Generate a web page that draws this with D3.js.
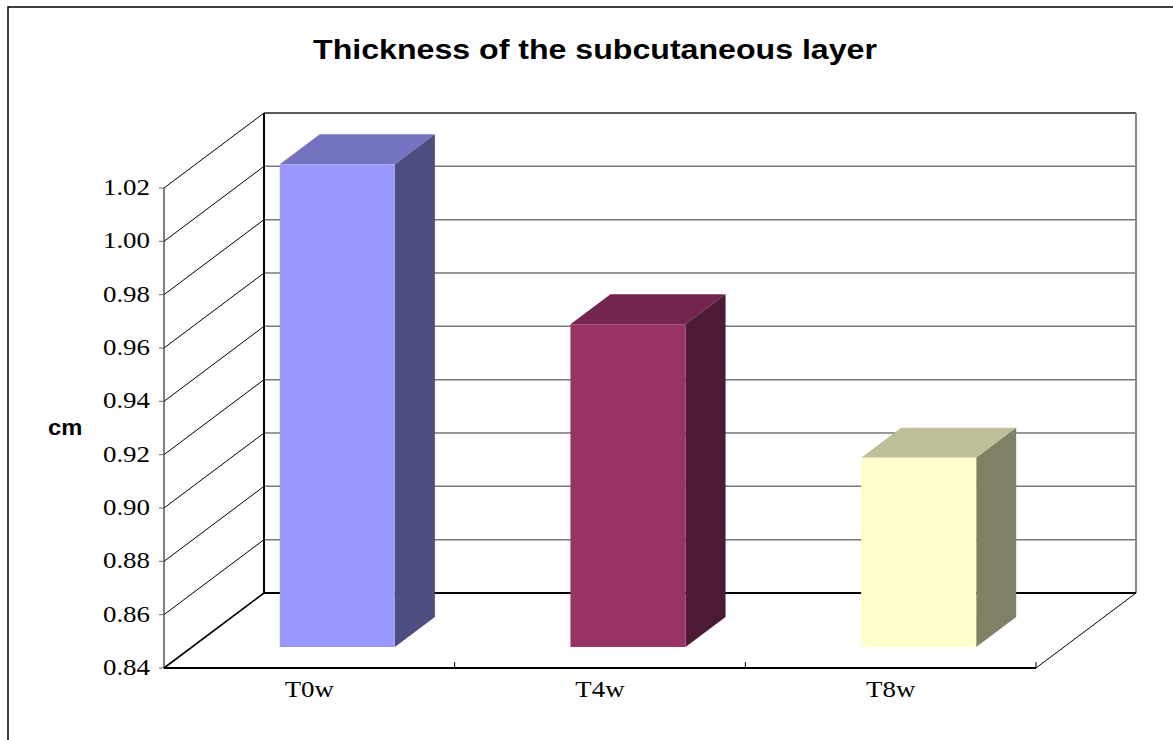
<!DOCTYPE html>
<html>
<head>
<meta charset="utf-8">
<script src="https://cdn.jsdelivr.net/npm/d3@7"></script>
<style>
  body { margin: 0; background: #fff; }
  svg { display: block; }
</style>
</head>
<body>
<div class="report"></div>
<script>
// chart data
var categories = ["T0w", "T4w", "T8w"];
var values = [1.021, 0.961, 0.911];
var yTicks = [0.84, 0.86, 0.88, 0.90, 0.92, 0.94, 0.96, 0.98, 1.00, 1.02];
var frontColors = ["#9999FF", "#993366", "#FFFFCC"];

var width = 1173, height = 740;
var svg = d3.select(".report").append("svg").attr("width", width).attr("height", height);

// 3d frame: front plane + depth offset
var plotLeft = 164, plotRight = 1036, plotTop = 188, plotBottom = 668;
var depthX = 100, depthY = -75;
var barFront = 0.28, barBack = 0.68;   // depth fractions of the bars

var x = d3.scaleBand().domain(categories).range([plotLeft, plotRight]).paddingInner(0.604).paddingOuter(0.302);
var xCat = d3.scaleBand().domain(categories).range([plotLeft, plotRight]);
var y = d3.scaleLinear().domain([0.84, 1.02]).range([plotBottom, plotTop]);

function proj(px, py, f) { return [px + depthX * f, py + depthY * f]; }
function poly(pts) { return "M" + pts.map(function (p) { return p.join(","); }).join("L") + "Z"; }

// text stretched horizontally like the original picture
function label(parent, tx, ty, sx, txt, anchor, family, size, weight) {
    return parent.append("text")
        .attr("transform", "translate(" + tx + "," + ty + ") scale(" + sx + ",1)")
        .attr("text-anchor", anchor)
        .attr("font-family", family)
        .attr("font-size", size)
        .attr("font-weight", weight || "normal")
        .text(txt);
}
var serif = "'Liberation Serif', 'Times New Roman', serif";
var sans = "'Liberation Sans', Arial, sans-serif";

// outer chart border
svg.append("rect").attr("x", 8).attr("y", 7).attr("width", 1300).attr("height", 900)
    .attr("fill", "none").attr("stroke", "#000").attr("stroke-width", 1.5);

var g = svg.append("g");

// back wall gridlines
yTicks.forEach(function (v, i) {
    var a = proj(plotLeft, y(v), 1), b = proj(plotRight, y(v), 1);
    g.append("line").attr("x1", a[0]).attr("y1", a[1]).attr("x2", b[0]).attr("y2", b[1])
        .attr("stroke", i === yTicks.length - 1 ? "#222" : "#777").attr("stroke-width", 1.5);
});

// side wall diagonals
yTicks.forEach(function (v, i) {
    var a = proj(plotLeft, y(v), 0), b = proj(plotLeft, y(v), 1);
    g.append("line").attr("x1", a[0]).attr("y1", a[1]).attr("x2", b[0]).attr("y2", b[1])
        .attr("stroke", "#000").attr("stroke-width", i === 0 ? 1.6 : 1);
});

// back wall edges
var bl = proj(plotLeft, y(0.84), 1), tl = proj(plotLeft, y(1.02), 1);
var br = proj(plotRight, y(0.84), 1), tr = proj(plotRight, y(1.02), 1);
g.append("line").attr("x1", tl[0]).attr("y1", tl[1]).attr("x2", bl[0]).attr("y2", bl[1])
    .attr("stroke", "#000").attr("stroke-width", 2);
g.append("line").attr("x1", tr[0]).attr("y1", tr[1]).attr("x2", br[0]).attr("y2", br[1])
    .attr("stroke", "#888").attr("stroke-width", 2);
g.append("line").attr("x1", bl[0]).attr("y1", bl[1]).attr("x2", br[0]).attr("y2", br[1])
    .attr("stroke", "#000").attr("stroke-width", 2);

// floor right edge and front edge
g.append("line").attr("x1", plotRight).attr("y1", plotBottom).attr("x2", br[0]).attr("y2", br[1])
    .attr("stroke", "#000").attr("stroke-width", 1);
g.append("line").attr("x1", plotLeft).attr("y1", plotBottom).attr("x2", plotRight).attr("y2", plotBottom)
    .attr("stroke", "#000").attr("stroke-width", 2);

// front y axis
g.append("line").attr("x1", plotLeft).attr("y1", y(1.02)).attr("x2", plotLeft).attr("y2", plotBottom)
    .attr("stroke", "#000").attr("stroke-width", 1);
yTicks.forEach(function (v) {
    g.append("line").attr("x1", plotLeft - 5).attr("y1", y(v)).attr("x2", plotLeft).attr("y2", y(v))
        .attr("stroke", "#666").attr("stroke-width", 1);
    label(g, 150, y(v) + 7, 1.17, d3.format(".2f")(v), "end", serif, 23);
});

// category ticks and labels
categories.forEach(function (c) {
    var tx = xCat(c) + xCat.bandwidth();
    g.append("line").attr("x1", tx).attr("y1", plotBottom - 6).attr("x2", tx).attr("y2", plotBottom)
        .attr("stroke", "#000").attr("stroke-width", 1);
    label(g, xCat(c) + xCat.bandwidth() / 2, 697, 1.12, c, "middle", serif, 24);
});

// 3d bars
categories.forEach(function (c, i) {
    var x0 = x(c), x1 = x(c) + x.bandwidth();
    var y0 = y(0.84), y1 = y(values[i]);
    var base = d3.rgb(frontColors[i]);
    var topCol = d3.rgb(base.r * 0.75, base.g * 0.75, base.b * 0.75);
    var sideCol = d3.rgb(base.r * 0.5, base.g * 0.5, base.b * 0.5);
    var bar = g.append("g").attr("class", "bar");
    bar.append("path")
        .attr("d", poly([proj(x0, y1, barFront), proj(x1, y1, barFront), proj(x1, y1, barBack), proj(x0, y1, barBack)]))
        .attr("fill", topCol);
    bar.append("path")
        .attr("d", poly([proj(x1, y0, barFront), proj(x1, y1, barFront), proj(x1, y1, barBack), proj(x1, y0, barBack)]))
        .attr("fill", sideCol);
    bar.append("path")
        .attr("d", poly([proj(x0, y0, barFront), proj(x1, y0, barFront), proj(x1, y1, barFront), proj(x0, y1, barFront)]))
        .attr("fill", base);
});

// titles
label(svg, 595, 59, 1.19, "Thickness of the subcutaneous layer", "middle", sans, 27, "bold");
label(svg, 48, 435, 1.08, "cm", "start", sans, 22, "bold");
</script>
</body>
</html>
